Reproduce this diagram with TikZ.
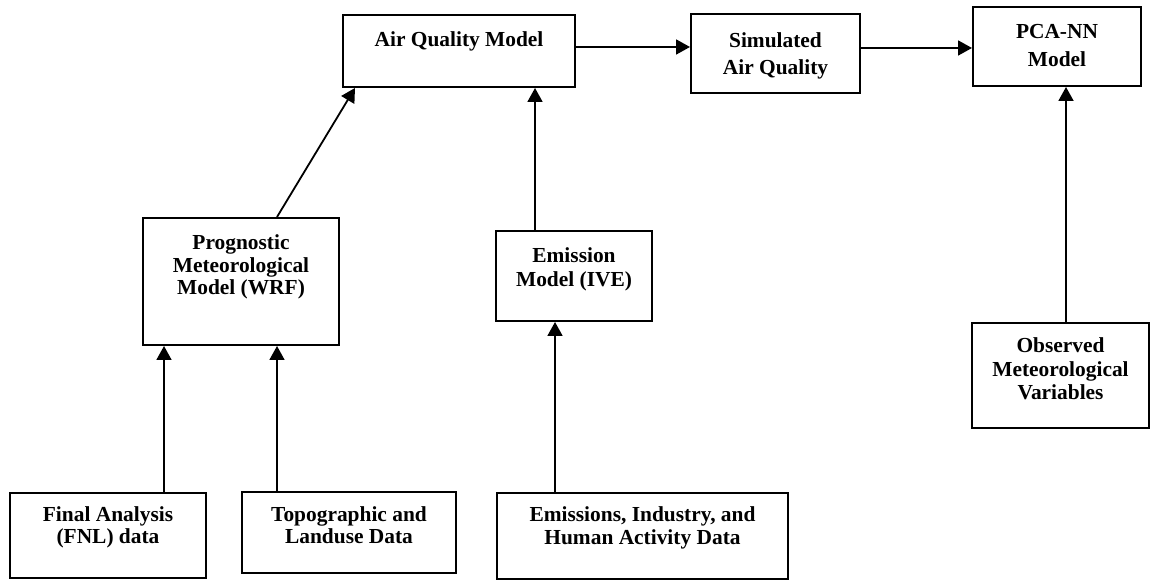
\documentclass[tikz,border=0pt]{standalone}
\usepackage{fontspec}
\setmainfont{Liberation Serif}
\usetikzlibrary{arrows.meta,fit}
\begin{document}
\begin{tikzpicture}[x=0.5pt,y=-0.5pt,
  box/.style={draw,line width=1pt,inner sep=0pt,rectangle},
  txt/.style={anchor=base,inner sep=0pt,font=\fontsize{10.7}{12}\selectfont\bfseries},
  conn/.style={line width=0.9pt,-{Triangle[width=7.5pt,length=7pt]}}]
\useasboundingbox (0,0) rectangle (1155,581);

% boxes
\node[box,fit={(343,15) (575,87)}] (aqm) {};
\node[box,fit={(691,14) (860,93)}] (sim) {};
\node[box,fit={(973,7) (1141,86)}] (pca) {};
\node[box,fit={(143,218) (339,345)}] (prog) {};
\node[box,fit={(496,231) (652,321)}] (emis) {};
\node[box,fit={(972,323) (1149,428)}] (obs) {};
\node[box,fit={(10,493) (206,578)}] (fnl) {};
\node[box,fit={(242,492) (456,573)}] (topo) {};
\node[box,fit={(497,493) (788,579)}] (emd) {};

% texts
\node[txt] (aqmA) at (459,47) {Air Quality Model};
\node[txt] (simA) at (775.5,47.5) {Simulated};
\node[txt] (simB) at (775.5,74.5) {Air Quality};
\node[txt] (pcaA) at (1057,39) {PCA-NN};
\node[txt] (pcaB) at (1057,67) {Model};
\node[txt] (progA) at (241,250) {Prognostic};
\node[txt] (progB) at (241,272.5) {Meteorological};
\node[txt] (progC) at (241,295) {Model (WRF)};
\node[txt] (emisA) at (574,263) {Emission};
\node[txt] (emisB) at (574,287) {Model (IVE)};
\node[txt] (obsA) at (1060.5,353) {Observed};
\node[txt] (obsB) at (1060.5,376.5) {Meteorological};
\node[txt] (obsC) at (1060.5,400) {Variables};
\node[txt] (fnlA) at (108,522) {Final Analysis};
\node[txt] (fnlB) at (108,544) {(FNL) data};
\node[txt] (topoA) at (349,522) {Topographic and};
\node[txt] (topoB) at (349,544) {Landuse Data};
\node[txt] (emdA) at (642.5,522) {Emissions, Industry, and};
\node[txt] (emdB) at (642.5,545) {Human Activity Data};

% connectors
\draw[conn] (aqm.east |- 0,47) -- (sim.west |- 0,47);
\draw[conn] (sim.east |- 0,48) -- (pca.west |- 0,48);
\draw[conn] (prog.north -| 277,0) -- (aqm.south -| 355,0);
\draw[conn] (emis.north -| 535,0) -- (aqm.south -| 535,0);
\draw[conn] (obs.north -| 1066,0) -- (pca.south -| 1066,0);
\draw[conn] (fnl.north -| 164,0) -- (prog.south -| 164,0);
\draw[conn] (topo.north -| 277,0) -- (prog.south -| 277,0);
\draw[conn] (emd.north -| 555,0) -- (emis.south -| 555,0);
\end{tikzpicture}
\end{document}
